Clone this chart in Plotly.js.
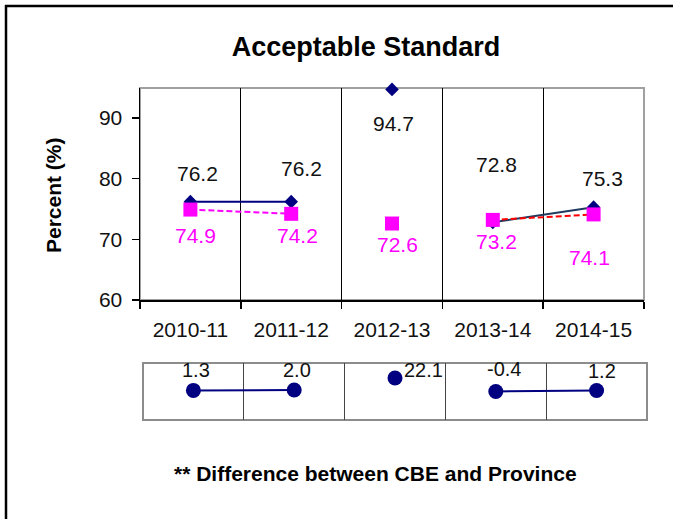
<!DOCTYPE html>
<html>
<head>
<meta charset="utf-8">
<script src="https://cdn.plot.ly/plotly-3.0.1.min.js"></script>
<style>html,body{margin:0;padding:0;background:#fff;}#chart{width:673px;height:519px;}</style>
</head>
<body>
<div id="chart"></div>
<script>
// ---- data ----
const categories = ['2010-11', '2011-12', '2012-13', '2013-14', '2014-15'];
const cbe = [76.2, 76.2, 94.7, 72.8, 75.3];
const province = [74.9, 74.2, 72.6, 73.2, 74.1];
const difference = [1.3, 2.0, 22.1, -0.4, 1.2];
const yTicks = [60, 70, 80, 90];
const titleText = 'Acceptable Standard';
const yTitleText = 'Percent (%)';
const noteText = '** Difference between CBE and Province';

// ---- style / placement config (pixels) ----
const FONT = 'Liberation Sans, Arial, Helvetica, sans-serif';
const NAVY = '#000080', MAGENTA = '#FF00FF', RED = '#FF0000';
const W = 673, H = 519, ML = 140, MR = 26, MT = 88, MB = 99;
const PW = W - ML - MR, PH = H - MT - MB;
const px2x = p => (p - ML) / PW;
const px2y = p => (H - MB - p) / PH;
// label offsets from marker centres [dx, dy] (dy positive = up)
const cbeLabelOff = [[7, 28], [10, 33], [1, -34], [4, 58], [9, 29]];
const provLabelOff = [[5, -26], [6, -22], [5, -21], [4, -22], [-4, -43]];
const diffLabelOff = [[3, 20], [3, 20], [28, 8], [8, 22], [5, 19]];

function seg(xs, ys, i0, i1) { return { x: xs.slice(i0, i1 + 1), y: ys.slice(i0, i1 + 1) }; }

const s1 = seg(categories, cbe, 0, 1), s2 = seg(categories, cbe, 3, 4);
const p1 = seg(categories, province, 0, 1), p2 = seg(categories, province, 3, 4);
const d1 = seg(categories, difference, 0, 1), d2 = seg(categories, difference, 3, 4);

const traces = [
  { x: s1.x, y: s1.y, mode: 'lines', line: { color: NAVY, width: 2 }, hoverinfo: 'skip' },
  { x: s2.x, y: s2.y, mode: 'lines', line: { color: '#1f3a5f', width: 2 }, hoverinfo: 'skip' },
  { x: p1.x, y: p1.y, mode: 'lines', line: { color: MAGENTA, width: 2, dash: '6px,3px' }, hoverinfo: 'skip' },
  { x: p2.x, y: p2.y, mode: 'lines', line: { color: RED, width: 2, dash: '6px,3px' }, hoverinfo: 'skip' },
  { x: categories, y: cbe, mode: 'markers', cliponaxis: false, marker: { symbol: 'diamond', color: NAVY, size: 10.5, line: { width: 0 } }, name: 'CBE' },
  { x: categories, y: province, mode: 'markers', cliponaxis: false, marker: { symbol: 'square', color: MAGENTA, size: 14, line: { width: 0 } }, name: 'Province' },
  { x: d1.x, y: d1.y, xaxis: 'x2', yaxis: 'y2', mode: 'lines', line: { color: NAVY, width: 2 }, hoverinfo: 'skip' },
  { x: d2.x, y: d2.y, xaxis: 'x2', yaxis: 'y2', mode: 'lines', line: { color: NAVY, width: 2 }, hoverinfo: 'skip' },
  { x: categories, y: difference, xaxis: 'x2', yaxis: 'y2', mode: 'markers', cliponaxis: false, marker: { symbol: 'circle', color: NAVY, size: 15, line: { width: 0 } }, name: 'Difference' }
];

const annotations = [];
categories.forEach((c, i) => {
  annotations.push({ x: c, y: cbe[i], xref: 'x', yref: 'y', text: cbe[i].toFixed(1), showarrow: false,
    xshift: cbeLabelOff[i][0], yshift: cbeLabelOff[i][1], font: { size: 21, color: '#111', family: FONT } });
  annotations.push({ x: c, y: province[i], xref: 'x', yref: 'y', text: province[i].toFixed(1), showarrow: false,
    xshift: provLabelOff[i][0], yshift: provLabelOff[i][1], font: { size: 21, color: MAGENTA, family: FONT } });
  annotations.push({ x: c, y: difference[i], xref: 'x2', yref: 'y2', text: difference[i].toFixed(1), showarrow: false,
    xshift: diffLabelOff[i][0], yshift: diffLabelOff[i][1], font: { size: 20, color: '#111', family: FONT } });
});
annotations.push({ xref: 'paper', yref: 'paper', x: px2x(53), y: px2y(195), text: '<b>' + yTitleText + '</b>',
  textangle: -90, showarrow: false, xanchor: 'center', yanchor: 'middle', font: { size: 21, color: '#000', family: FONT } });
annotations.push({ xref: 'paper', yref: 'paper', x: px2x(375), y: px2y(473), text: '<b>' + noteText + '</b>',
  showarrow: false, xanchor: 'center', yanchor: 'middle', font: { size: 21, color: '#000', family: FONT } });

const shapes = [
  // grey border of main plot (left/bottom covered by black axis lines)
  { type: 'rect', xref: 'x domain', yref: 'y domain', x0: 0, x1: 1, y0: 0, y1: 1, line: { color: '#a0a0a0', width: 2 }, layer: 'below' },
  // grey border of lower panel
  { type: 'rect', xref: 'x2 domain', yref: 'y2 domain', x0: 0, x1: 1, y0: 0, y1: 1, line: { color: '#8c8c8c', width: 2 }, layer: 'below' },
  // outer frame (left and top edges)
  { type: 'line', xref: 'paper', yref: 'paper', x0: px2x(6), x1: px2x(6), y0: px2y(530), y1: px2y(5), line: { color: '#000', width: 2.5 } },
  { type: 'line', xref: 'paper', yref: 'paper', x0: px2x(5), x1: px2x(690), y0: px2y(6), y1: px2y(6), line: { color: '#000', width: 2.5 } }
];

const layout = {
  width: W, height: H,
  margin: { l: ML, r: MR, t: MT, b: MB, pad: 0 },
  paper_bgcolor: '#fff', plot_bgcolor: '#fff',
  showlegend: false,
  font: { family: FONT, color: '#111' },
  title: { text: '<b>' + titleText + '</b>', x: 366 / W, xanchor: 'center', xref: 'container',
    y: 1 - 47 / H, yanchor: 'middle', yref: 'container', font: { size: 27, color: '#000', family: FONT } },
  xaxis: {
    domain: [0, 504 / PW], anchor: 'y', type: 'category', categoryorder: 'array', categoryarray: categories,
    range: [-0.5, categories.length - 0.5], tickson: 'boundaries', ticks: 'outside', ticklen: 7, tickwidth: 1.5, tickcolor: '#000',
    showline: true, linecolor: '#000', linewidth: 1.5, showgrid: true, gridcolor: '#000', gridwidth: 1.2, zeroline: false,
    tickfont: { size: 21, color: '#111', family: FONT }, ticklabelstandoff: 10, fixedrange: true
  },
  yaxis: {
    domain: [px2y(300), 1], anchor: 'x', range: [60, 94.93], tickvals: yTicks, ticktext: yTicks.map(String),
    ticks: 'outside', ticklen: 7, tickwidth: 1.5, tickcolor: '#000', showline: true, linecolor: '#000', linewidth: 1.5,
    showgrid: false, zeroline: false,
    tickfont: { size: 21, color: '#111', family: FONT }, ticklabelstandoff: 5, fixedrange: true
  },
  xaxis2: {
    domain: [3 / PW, 1], anchor: 'y2', type: 'category', categoryorder: 'array', categoryarray: categories,
    range: [-0.5, categories.length - 0.5], tickson: 'boundaries', ticks: '', showticklabels: false,
    showline: false, showgrid: true, gridcolor: '#444', gridwidth: 1.2, zeroline: false, fixedrange: true
  },
  yaxis2: {
    domain: [0, px2y(363)], anchor: 'x2', range: [-48, 47], showticklabels: false, ticks: '',
    showgrid: false, zeroline: false, showline: false, fixedrange: true
  },
  annotations: annotations,
  shapes: shapes
};

Plotly.newPlot('chart', traces, layout, { displayModeBar: false, staticPlot: true });
</script>
</body>
</html>
